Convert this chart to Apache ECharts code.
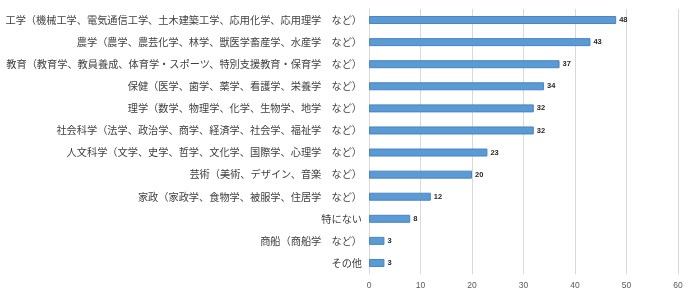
<!DOCTYPE html>
<html>
<head>
<meta charset="utf-8">
<script src="https://cdn.jsdelivr.net/npm/echarts@6/dist/echarts.min.js"></script>
<style>
  html, body { margin: 0; padding: 0; background: #fff; }
  #chart { width: 700px; height: 303px; }
</style>
</head>
<body>
<div id="chart"></div>
<script>
// categories top to bottom as in the picture
var categories = [
  '工学（機械工学、電気通信工学、土木建築工学、応用化学、応用理学　など）',
  '農学（農学、農芸化学、林学、獣医学畜産学、水産学　など）',
  '教育（教育学、教員養成、体育学・スポーツ、特別支援教育・保育学　など）',
  '保健（医学、歯学、薬学、看護学、栄養学　など）',
  '理学（数学、物理学、化学、生物学、地学　など）',
  '社会科学（法学、政治学、商学、経済学、社会学、福祉学　など）',
  '人文科学（文学、史学、哲学、文化学、国際学、心理学　など）',
  '芸術（美術、デザイン、音楽　など）',
  '家政（家政学、食物学、被服学、住居学　など）',
  '特にない',
  '商船（商船学　など）',
  'その他'
]
var counts = [48, 43, 37, 34, 32, 32, 23, 20, 12, 8, 3, 3]

var myChart = echarts.init(document.getElementById('chart'))

var option = {
  animation: false,
  grid: { left: 369, right: 22, top: 9, bottom: 29 },
  xAxis: {
    type: 'value',
    min: 0,
    max: 60,
    interval: 10,
    axisLine: { show: false },
    axisTick: { show: false },
    axisLabel: { color: '#595959', fontSize: 8.5, margin: 7, fontFamily: 'Liberation Sans' },
    splitLine: { lineStyle: { color: '#d9d9d9', width: 1 } }
  },
  yAxis: {
    type: 'category',
    inverse: true,
    data: categories,
    axisLine: { show: true, lineStyle: { color: '#d9d9d9' } },
    axisTick: { show: false },
    axisLabel: {
      color: '#404040',
      fontSize: 10.2,
      margin: 7,
      fontFamily: 'Noto Sans CJK JP'
    }
  },
  series: [
    {
      type: 'bar',
      data: counts,
      barWidth: 8,
      itemStyle: { color: '#5b9bd5', borderColor: '#4a84bf', borderWidth: 1 },
      label: {
        show: true,
        position: 'right',
        distance: 3,
        color: '#262626',
        fontSize: 7.5,
        fontWeight: 'bold',
        fontFamily: 'Liberation Sans'
      }
    }
  ]
}

myChart.setOption(option)
</script>
</body>
</html>
